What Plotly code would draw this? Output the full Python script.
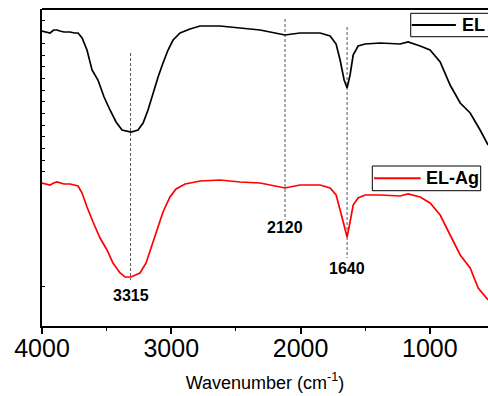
import plotly.graph_objects as go

# Wavenumber (cm-1) sample positions
wn_el = [4000, 3938, 3910, 3884, 3861, 3830, 3783, 3750, 3721, 3690, 3652, 3613, 3567, 3520, 3474,
         3427, 3381, 3311, 3257, 3218, 3180, 3141, 3102, 3064, 3025, 2986, 2932, 2855,
         2777, 2623, 2468, 2313, 2197, 2120, 2004, 1849, 1771, 1725, 1694, 1663, 1640,
         1617, 1593, 1555, 1501, 1385, 1230, 1168, 1075, 998, 920, 843, 765, 688, 611, 549]
# EL transmittance (arbitrary units)
t_el = [295, 293, 296, 296, 295, 294, 294, 293, 293, 288, 276, 256, 246, 229, 216,
        204, 196, 194, 196, 203, 216, 233, 249, 263, 276, 286, 293, 297,
        300, 300, 298, 296, 293, 291, 293, 293, 290, 282, 266, 246, 238,
        251, 271, 280, 282, 283, 282, 284, 280, 276, 264, 241, 223, 213, 196, 181]

wn_ag = [4000, 3938, 3910, 3884, 3830, 3783, 3750, 3721, 3690, 3652, 3605, 3551, 3497, 3451, 3396,
         3358, 3311, 3242, 3195, 3149, 3102, 3064, 3010, 2963, 2893, 2777,
         2623, 2468, 2313, 2120, 2004, 1849, 1771, 1725, 1694, 1663, 1640, 1617,
         1593, 1555, 1501, 1385, 1230, 1168, 1075, 998, 920, 843, 765, 688, 626, 549]
# EL-Ag transmittance (arbitrary units)
t_ag = [143, 141, 143, 144, 142, 142, 141, 140, 133, 119, 104, 88, 76, 63, 53,
        49, 49, 53, 63, 81, 98, 114, 129, 137, 142, 145,
        146, 144, 143, 138, 141, 141, 138, 131, 116, 101, 89, 104,
        121, 128, 131, 131, 130, 132, 129, 123, 111, 91, 71, 58, 38, 26]

# Peak markers
peak_wn = [3315, 2120, 1640]
peak_labels = ["3315", "2120", "1640"]
peak_top = [273, 307, 299]
peak_bottom = [46, 106, 68]
label_y = [31, 99, 58]

x_ticks = [4000, 3000, 2000, 1000]
y_minor_ticks = [306, 294.3, 282.7, 271, 259.3, 247.7, 236, 224.3, 212.7, 201,
                 189.3, 177.7, 166, 154.3, 40]

series_names = ["EL", "EL-Ag"]
series_colors = ["black", "#ff0000"]

FONT = "Arial, Liberation Sans, sans-serif"

fig = go.Figure()

for w, top, bot in zip(peak_wn, peak_top, peak_bottom):
    fig.add_trace(go.Scatter(x=[w, w], y=[top, bot], mode="lines",
                             line=dict(color="#555555", width=1, dash="3px,2px"),
                             showlegend=False, hoverinfo="skip"))

fig.add_trace(go.Scatter(x=wn_el, y=t_el, mode="lines", name=series_names[0],
                         line=dict(color=series_colors[0], width=1.7), showlegend=False))
fig.add_trace(go.Scatter(x=wn_ag, y=t_ag, mode="lines", name=series_names[1],
                         line=dict(color=series_colors[1], width=1.7), showlegend=False))

for w, lab, ly in zip(peak_wn, peak_labels, label_y):
    fig.add_annotation(x=w, y=ly, text="<b>" + lab + "</b>", showarrow=False,
                       font=dict(family=FONT, size=16, color="black"))

# Boxed legends (paper coordinates): box x0, x1, y0, y1, line x0, x1, text x
legend_boxes = [
    dict(bx0=0.8267, bx1=1.03, by0=0.9126, by1=0.9864, lx0=0.829, lx1=0.928, ty=0.9495, tx=0.937),
    dict(bx0=0.7406, bx1=0.9836, by0=0.4268, by1=0.5047, lx0=0.7444, lx1=0.8491, ty=0.4659, tx=0.8565),
]
for name, color, lb in zip(series_names, series_colors, legend_boxes):
    fig.add_shape(type="rect", xref="paper", yref="paper",
                  x0=lb["bx0"], x1=lb["bx1"], y0=lb["by0"], y1=lb["by1"],
                  line=dict(color="black", width=1), fillcolor="white", layer="above")
    fig.add_shape(type="line", xref="paper", yref="paper",
                  x0=lb["lx0"], x1=lb["lx1"], y0=lb["ty"], y1=lb["ty"],
                  line=dict(color=color, width=2), layer="above")
    fig.add_annotation(xref="paper", yref="paper", x=lb["tx"], y=lb["ty"],
                       text="<b>" + name + "</b>", showarrow=False,
                       xanchor="left", yanchor="middle",
                       font=dict(family=FONT, size=18, color="black"))

fig.update_layout(
    width=488, height=396,
    margin=dict(l=42, r=0, t=9, b=70, autoexpand=False),
    paper_bgcolor="white", plot_bgcolor="white",
    showlegend=False,
    xaxis=dict(range=[4000, 550], tickvals=x_ticks,
               ticks="outside", ticklen=6, tickwidth=1.5, tickcolor="black",
               minor=dict(dtick=500, ticks="outside", ticklen=3, tickcolor="black", tickwidth=1),
               showline=True, linecolor="black", linewidth=2,
               showgrid=False, zeroline=False, ticklabelstandoff=-7,
               tickfont=dict(family=FONT, size=25, color="black"),
               title=dict(text="Wavenumber (cm<sup>-1</sup>)", standoff=15,
                          font=dict(family=FONT, size=18, color="black"))),
    yaxis=dict(range=[0, 317], tickvals=y_minor_ticks, showticklabels=False,
               ticks="inside", ticklen=3, tickwidth=1, tickcolor="black",
               showline=True, linecolor="black", linewidth=2,
               showgrid=False, zeroline=False),
)

fig.add_shape(type="line", xref="paper", yref="paper", x0=0, x1=1, y0=1, y1=1,
              line=dict(color="black", width=2))

fig.write_html("out.html", config={"displayModeBar": False},
               post_script="document.body.style.margin='0';document.body.style.overflow='hidden';")
